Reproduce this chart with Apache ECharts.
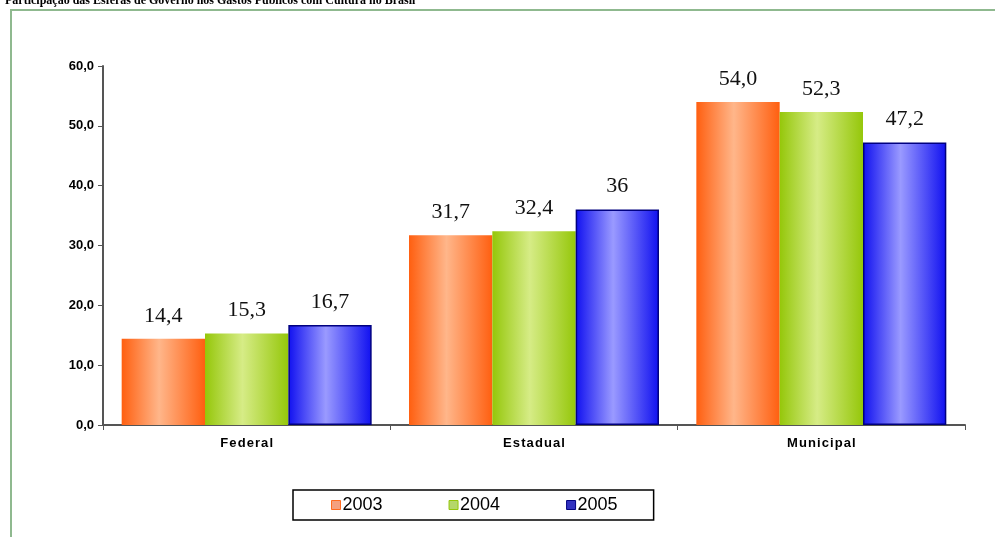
<!DOCTYPE html>
<html><head><meta charset="utf-8">
<script src="https://cdn.jsdelivr.net/npm/echarts@6/dist/echarts.min.js"></script>
<style>html,body{margin:0;padding:0;background:#fff}#c{width:995px;height:537px}</style>
</head><body><div id="c"></div>
<script>
const categories = ['Federal', 'Estadual', 'Municipal'];
const years = ['2003', '2004', '2005'];
const v2003 = [14.4, 31.7, 54.0];
const v2004 = [15.3, 32.4, 52.3];
const v2005 = [16.7, 36, 47.2];
const labels2003 = ['14,4', '31,7', '54,0'];
const labels2004 = ['15,3', '32,4', '52,3'];
const labels2005 = ['16,7', '36', '47,2'];
const yTicks = [0, 10, 20, 30, 40, 50, 60];
const title = 'Participação das Esferas de Governo nos Gastos Públicos com Cultura no Brasil';

function grad(edge, mid) {
  return new echarts.graphic.LinearGradient(0, 0, 1, 0, [
    {offset: 0, color: edge}, {offset: 0.45, color: mid}, {offset: 1, color: edge}
  ]);
}
const styles = [
  {color: grad('#ff5f10', '#ffb68a'), border: '#ff6a20', legend: '#f4a080'},
  {color: grad('#95c70a', '#d6ec86'), border: '#95c70a', legend: '#b5d76a'},
  {color: grad('#1010f0', '#9a9aff'), border: '#000080', legend: '#3030c0'}
];
const vals = [v2003, v2004, v2005];
const labs = [labels2003, labels2004, labels2005];

const chart = echarts.init(document.getElementById('c'));
chart.setOption({
  animation: false,
  backgroundColor: '#fff',
  graphic: [
    {type: 'rect', shape: {x: 11, y: 10, width: 990, height: 540}, style: {fill: 'none', stroke: '#8fb98f', lineWidth: 2}},
    {type: 'text', left: 5, top: -5, style: {text: title, font: 'bold 12px "Liberation Serif", serif', fill: '#000'}}
  ],
  legend: {
    bottom: 17, left: 293,
    itemWidth: 9, itemHeight: 9, itemGap: 66,
    padding: [6, 36, 6, 38],
    borderColor: '#000', borderWidth: 1.5,
    textStyle: {fontFamily: 'Liberation Sans, Arial', fontSize: 18, color: '#000', padding: [0,0,0,-3]},
    data: years.map((y, i) => ({name: y, icon: 'rect', itemStyle: {color: styles[i].legend, borderColor: styles[i].border, borderWidth: 1}}))
  },
  grid: {left: 103, right: 30, top: 66, bottom: 112},
  xAxis: {
    type: 'category', data: categories,
    axisLine: {lineStyle: {color: '#555', width: 2}},
    axisTick: {show: true, length: 5, lineStyle: {color: '#555'}},
    axisLabel: {fontFamily: 'Liberation Sans, Arial', fontWeight: 'bold', fontSize: 13, color: '#000', margin: 12, formatter: v => v.split('').join('\u200A')}
  },
  yAxis: {
    type: 'value', min: 0, max: 60, interval: 10,
    axisLine: {show: true, lineStyle: {color: '#555', width: 2}},
    axisTick: {show: true, length: 5, lineStyle: {color: '#555'}},
    splitLine: {show: false},
    axisLabel: {fontFamily: 'Liberation Sans, Arial', fontWeight: 'bold', fontSize: 13, color: '#000', margin: 9,
      formatter: v => v.toFixed(1).replace('.', ',')}
  },
  series: years.map((y, i) => ({
    name: y, type: 'bar', barGap: '0%', barCategoryGap: '13%',
    data: vals[i],
    itemStyle: {color: styles[i].color, borderColor: styles[i].border, borderWidth: i === 2 ? 1.5 : 0},
    label: {show: true, position: 'top', distance: 12, fontFamily: '"Liberation Serif", "Times New Roman", serif', fontSize: 22, color: '#111',
      formatter: p => labs[i][p.dataIndex]}
  }))
});
</script></body></html>
